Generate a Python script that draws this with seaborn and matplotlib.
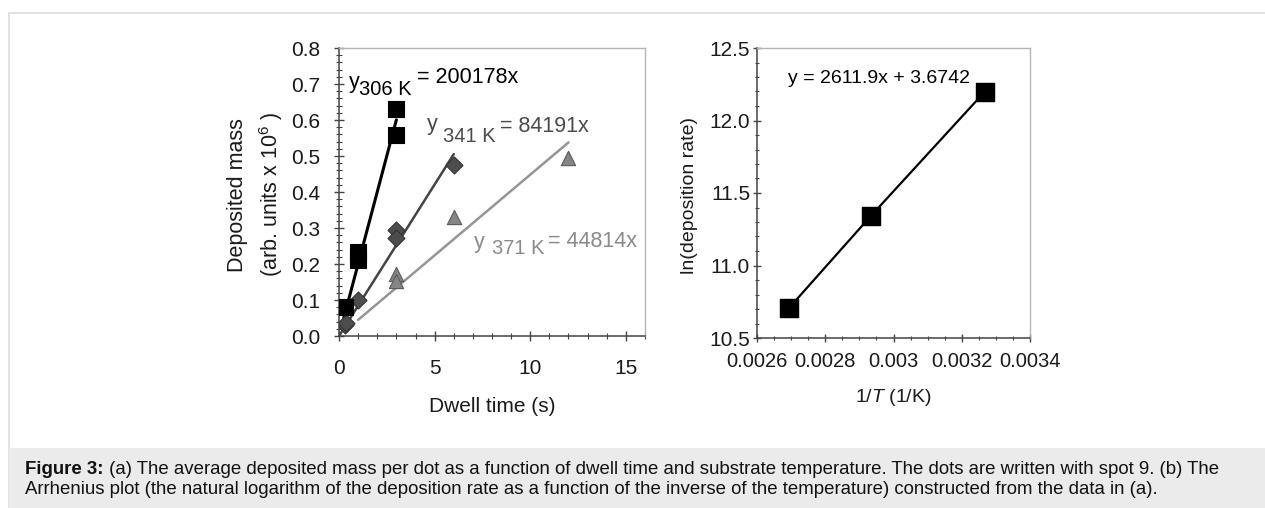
import matplotlib
matplotlib.use("Agg")
import matplotlib.pyplot as plt
import matplotlib.ticker as mt
from matplotlib.patches import Rectangle
import numpy as np
import pandas as pd
import seaborn as sns

sns.set_theme(style="white")
plt.rcParams['font.family'] = ['Liberation Sans', 'DejaVu Sans']
plt.rcParams['mathtext.fontset'] = 'custom'
plt.rcParams['mathtext.rm'] = 'Liberation Sans'
plt.rcParams['mathtext.it'] = 'Liberation Sans:italic'

# ---- data (a) ----
t306 = [0.3, 1.0, 1.0, 3.0, 3.0]
m306 = [0.08, 0.232, 0.212, 0.63, 0.557]
t341 = [0.3, 0.35, 1.0, 3.0, 3.0, 6.0]
m341 = [0.03, 0.036, 0.10, 0.295, 0.272, 0.475]
t371 = [3.0, 3.0, 6.0, 12.0]
m371 = [0.172, 0.152, 0.33, 0.495]
slope306, slope341, slope371 = 200178, 84191, 44814
fit306_x = [0.15, 3.0]
fit341_x = [0.0, 6.0]
fit371_x = [1.0, 12.0]
temps = ['306 K', '341 K', '371 K']

# ---- data (b) ----
invT = [0.002695, 0.002933, 0.003268]
lnrate = [10.71, 11.34, 12.20]
arr_slope, arr_icpt = 2611.9, 3.6742

caption_bold = "Figure 3:"
caption_l1 = (" (a) The average deposited mass per dot as a function of dwell time and substrate "
              "temperature. The dots are written with spot 9. (b) The")
caption_l2 = ("Arrhenius plot (the natural logarithm of the deposition rate as a function of the inverse "
              "of the temperature) constructed from the data in (a).")

W, H = 1265, 508
fig = plt.figure(figsize=(W / 100, H / 100), dpi=100)

# frame and caption box
fig.patches.append(Rectangle((9 / W, -0.01), 1.02, 1 - 13 / H + 0.01, transform=fig.transFigure,
                             facecolor='white', edgecolor='#dcdcdc', lw=1.2, zorder=-10))
fig.patches.append(Rectangle((9 / W, -0.01), 1.02, (H - 448) / H + 0.01, transform=fig.transFigure,
                             facecolor='#ebebeb', edgecolor='none', zorder=-9))

def ax_at(l, r, t, b):
    return fig.add_axes([l / W, 1 - b / H, (r - l) / W, (b - t) / H])

axA = ax_at(339, 645, 48, 336)
axB = ax_at(757, 1030, 48, 338)

tick_col = '#1a1a1a'

def style(ax, fs, maj, mnr):
    ax.patch.set_alpha(0)
    for s in ['left', 'bottom']:
        ax.spines[s].set_color('#444444')
        ax.spines[s].set_linewidth(1.1)
    for s in ['top', 'right']:
        ax.spines[s].set_color('#b5b5b5')
        ax.spines[s].set_linewidth(1.0)
    ax.tick_params(which='major', direction='inout', length=maj, width=1.0, color='#444444',
                   labelsize=fs, labelcolor=tick_col, left=True, bottom=True)
    ax.tick_params(which='minor', direction='inout', length=mnr, width=0.8, color='#444444',
                   left=True, bottom=True)

# ---- panel (a) ----
dfa = pd.DataFrame({
    't': t306 + t341 + t371,
    'm': m306 + m341 + m371,
    'T': ['306'] * len(t306) + ['341'] * len(t341) + ['371'] * len(t371),
})
fits = pd.DataFrame({
    't': fit306_x + fit341_x + fit371_x,
    'T': ['306'] * 2 + ['341'] * 2 + ['371'] * 2,
})
slopes = {'306': slope306, '341': slope341, '371': slope371}
fits['m'] = [x * slopes[T] * 1e-6 for x, T in zip(fits['t'], fits['T'])]

line_cols = {'306': '#000000', '341': '#444444', '371': '#959595'}
mk_cols = {'306': '#000000', '341': '#4d4d4d', '371': '#858585'}
mk_edge = {'306': '#000000', '341': '#333333', '371': '#5a5a5a'}
markers = {'306': 's', '341': 'D', '371': '^'}
sizes = {'306': 125, '341': 75, '371': 105}
lws = {'306': 2.2, '341': 1.8, '371': 1.8}

for T in ['371', '341', '306']:
    sub = fits[fits['T'] == T]
    sns.lineplot(data=sub, x='t', y='m', ax=axA, color=line_cols[T], lw=lws[T], legend=False, zorder=2)
for T in ['371', '341', '306']:
    sub = dfa[dfa['T'] == T]
    sns.scatterplot(data=sub, x='t', y='m', ax=axA, marker=markers[T], s=sizes[T],
                    color=mk_cols[T], edgecolor=mk_edge[T], linewidth=0.8, legend=False, zorder=3)

FA = 15
axA.set_xlim(0, 16)
axA.set_ylim(0, 0.8)
axA.xaxis.set_major_locator(mt.MultipleLocator(5))
axA.xaxis.set_minor_locator(mt.MultipleLocator(1))
axA.yaxis.set_major_locator(mt.MultipleLocator(0.1))
axA.yaxis.set_minor_locator(mt.MultipleLocator(0.02))
axA.yaxis.set_major_formatter(mt.FormatStrFormatter('%.1f'))
style(axA, FA, 7.5, 4.5)
axA.tick_params(axis='x', which='major', pad=12.5)
axA.tick_params(axis='y', which='major', pad=9.5)
axA.set_xlabel('Dwell time (s)', fontsize=FA, color=tick_col)
axA.xaxis.set_label_coords(0.5, -0.212)
axA.set_ylabel('Deposited mass\n(arb. units x 10$^{6}$ )', fontsize=15.5, color=tick_col,
               linespacing=1.45)
axA.yaxis.set_label_coords(-0.177, 0.49)

# equation labels: "y", subscript, "= ..." with offsets in pixels
eq_specs = [
    # anchor (data), color, sub offset (px), eq offset (px), slope
    ((0.50, 0.689), '#000000', (10, -7), (68, 5), slope306, temps[0]),
    ((4.60, 0.572), '#4a4a4a', (16, -12), (73, -2), slope341, temps[1]),
    ((7.06, 0.244), '#8a8a8a', (18, -6), (74, 1), slope371, temps[2]),
]
for (xy, col, so, eo, sl, lab) in eq_specs:
    axA.annotate('y', xy=xy, xycoords='data', fontsize=15.5, color=col, va='baseline', ha='left')
    axA.annotate(lab, xy=xy, xycoords='data', xytext=so, textcoords='offset pixels',
                 fontsize=14.5, color=col, va='baseline', ha='left')
    axA.annotate('= %dx' % sl, xy=xy, xycoords='data', xytext=eo, textcoords='offset pixels',
                 fontsize=15.5, color=col, va='baseline', ha='left')

# ---- panel (b) ----
FB = 14.5
dfb = pd.DataFrame({'x': invT, 'y': lnrate})
sns.lineplot(data=dfb, x='x', y='y', ax=axB, color='black', lw=1.6, zorder=2)
sns.scatterplot(data=dfb, x='x', y='y', ax=axB, marker='s', s=160, color='black',
                edgecolor='black', zorder=3)
axB.set_xlim(0.0026, 0.0034)
axB.set_ylim(10.5, 12.5)
axB.xaxis.set_major_locator(mt.MultipleLocator(0.0002))
axB.xaxis.set_minor_locator(mt.MultipleLocator(0.00005))
axB.xaxis.set_major_formatter(mt.FuncFormatter(lambda v, p: ('%.4f' % v).rstrip('0')))
axB.yaxis.set_major_locator(mt.MultipleLocator(0.5))
axB.yaxis.set_minor_locator(mt.MultipleLocator(0.1))
axB.yaxis.set_major_formatter(mt.FormatStrFormatter('%.1f'))
style(axB, FB, 6, 3.5)
axB.tick_params(axis='y', which='major', labelsize=15)
axB.tick_params(axis='x', which='major', pad=7)
axB.tick_params(axis='y', which='major', pad=2)
axB.set_xlabel(r'1/$\mathit{T}$ (1/K)', fontsize=14, color=tick_col)
axB.xaxis.set_label_coords(0.5, -0.168)
axB.set_ylabel('ln(deposition rate)', fontsize=14, color=tick_col)
axB.yaxis.set_label_coords(-0.215, 0.49)
axB.text(0.00269, 12.26, 'y = %.1fx + %.4f' % (arr_slope, arr_icpt), fontsize=14, color='#000000',
         ha='left', va='baseline')

# ---- caption ----
cfs = 13.4
fig.canvas.draw()
r = fig.canvas.get_renderer()
tb = fig.text(25 / W, 1 - 469 / H, caption_bold, fontsize=cfs, fontweight='bold', color='#111111',
              va='center', ha='left')
bb = tb.get_window_extent(renderer=r)
fig.text(bb.x1 / W, 1 - 469 / H, caption_l1, fontsize=cfs, color='#111111', va='center', ha='left')
fig.text(25 / W, 1 - 490 / H, caption_l2, fontsize=cfs, color='#111111', va='center', ha='left')

fig.savefig('out.png', dpi=100)
